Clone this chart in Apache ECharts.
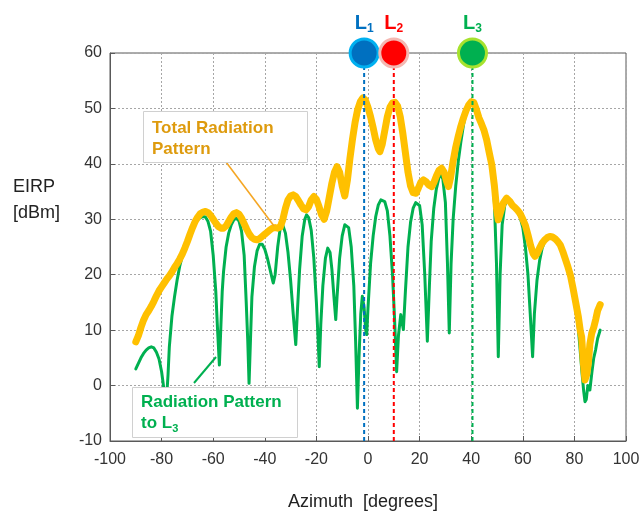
<!DOCTYPE html>
<html>
<head>
<meta charset="utf-8">
<script src="https://cdn.jsdelivr.net/npm/echarts@6/dist/echarts.min.js"></script>
<style>
  html, body { margin: 0; padding: 0; background: #ffffff; }
  #chart { width: 643px; height: 516px; }
</style>
</head>
<body>
<div id="chart"></div>
<script>
// Total radiation pattern (azimuth in degrees, EIRP in dBm)
const totalAz = [
  -90,-89,-88,-87,-86,-85,-84,-83,-82,-81,-80,-79,-78,-77,-76,-75,-74,-73,-72,-71,
  -70,-69,-68,-67,-66,-65,-64,-63,-62,-61,-60,-59,-58,-57,-56,-55,-54,-53,-52,-51,
  -50,-49,-48,-47,-46,-45,-44,-43,-42,-41,-40,-39,-38,-37,-36,-35,-34,-33,-32,-31,
  -30,-29,-28,-27,-26,-25,-24,-23,-22,-21,-20,-19,-18,-17,-16.5,-16,-15,-14,-13,-12,
  -11,-10,-9,-8.5,-8,-7,-6,-5,-4,-3,-2,-1,0,1,2,3,4,4.6,5.5,6.5,
  7.5,8.5,9.5,10.5,11.5,12.5,13.5,14.5,15.5,16.5,17.5,18.6,19.5,20.5,21.5,22.5,23.5,24.7,25.5,26.5,
  27.5,28.5,29.5,30.5,31.2,32,33,34,35,36,37,38,39,40,40.5,41,42,43,44,45,
  46,47,48,49,49.8,50.5,51.5,52.5,53.7,55,56,57,58,59,60,61,62,63,64,64.7,
  65.5,66.5,67.5,68.5,69.5,70.5,71.5,72.5,73.5,74.5,75.5,76.5,77.5,78.5,79.5,80.5,81.5,82.3,82.8,83.5,
  84.1,84.8,85.4,86,86.7,87.5,88.3,89,90
];
const totalDbm = [
  7.9,9.0,10.5,11.8,12.8,13.5,14.3,15.2,16.2,17.1,17.8,18.5,19.2,19.8,20.5,21.3,22.0,22.8,23.7,24.8,
  26.0,27.3,28.5,29.6,30.4,31.0,31.3,31.4,31.2,30.7,30.0,29.3,28.7,28.4,28.4,28.8,29.6,30.4,31.0,31.2,
  30.9,30.2,29.2,28.2,27.3,26.7,26.4,26.3,26.5,26.9,27.3,27.7,28.1,28.4,28.5,28.4,28.6,30.0,32.0,33.5,
  34.2,34.4,34.1,33.4,32.6,31.9,31.7,32.3,33.5,34.1,33.6,32.3,30.8,30.0,30.2,31.5,34.0,36.5,38.5,39.5,
  38.5,36.0,34.2,34.5,37.0,41.0,44.5,47.5,49.8,51.2,51.9,51.5,50.2,48.5,46.5,44.3,42.7,42.2,43.5,46.0,
  48.5,50.2,51.0,51.1,50.4,48.5,45.5,42.0,38.5,36.0,34.8,34.7,35.6,36.7,37.1,36.8,36.2,35.9,36.6,37.8,
  38.8,39.2,38.5,36.8,35.9,37.5,40.5,43.0,45.0,46.8,48.3,49.6,50.6,51.2,51.3,51.1,49.8,48.3,47.2,46.0,
  44.3,42.0,39.8,36.0,32.0,29.9,31.5,33.0,33.8,33.2,32.5,32.1,31.6,31.0,30.0,28.9,27.2,25.3,23.8,23.3,
  23.8,24.8,25.7,26.3,26.7,26.9,26.8,26.5,26.0,25.4,24.2,22.8,21.4,19.8,17.5,15.0,12.5,9.8,8.8,4.0,
  1.0,2.0,4.0,7.5,9.4,10.5,12.0,13.5,14.6
];

// Radiation pattern towards L3
const l3Az = [
  -90,-89,-88,-87,-86,-85,-84,-83,-82,-81,-80,-79,-78.3,-77.5,-77,-76,-75,-74,-73,-72,
  -71,-70,-69,-68,-67,-66,-65,-64,-63,-62,-61,-60,-59,-58.3,-57.6,-57,-56.5,-56,-55,-54,
  -53,-52,-51,-50,-49,-48,-47.2,-46.6,-46.1,-45.5,-45,-44,-43,-42,-41.5,-41,-40,-39,-38,-37,
  -36.7,-36,-35,-34,-33.5,-33,-32,-31,-30,-29,-28,-27.3,-26.5,-25.5,-24.5,-23.8,-23,-22,-21,-20,
  -19.3,-18.9,-18.3,-17.5,-16.5,-15.6,-14.7,-14,-13.2,-12.5,-12,-11,-10,-9,-8.3,-7.5,-6.5,-5.5,-4.8,-4.1,
  -3.5,-2.8,-2.2,-1.5,-0.9,-0.5,0,1,2,3,4,5,5.6,6.5,7.5,8.5,9.5,10.3,11.1,11.8,
  12.7,13.7,14.5,15.5,16.5,17.5,18.5,19.1,20,21,22,23,23.8,24.5,25.5,26.5,27.5,28.3,29,30,
  30.8,31.5,32.2,33,34,35,36,37,38,39,40,40.5,41,42,43,44,45,46,47,48,
  49,49.8,50.5,51.2,52,53,54,55,56,57,58,59,60,61,62,63,63.8,64.5,65.5,66.5,
  67.5,68.5,69.5,70.5,71.5,72.5,73.5,74.5,75.5,76.5,77.5,78.5,79.5,80.5,81.5,82.3,83,83.6,84.1,84.6,
  85.2,86,86.8,87.5,88.2,89,90
];
const l3Dbm = [
  3.0,4.0,5.0,5.8,6.4,6.8,7.0,6.8,6.0,4.8,2.5,-1.0,-4.0,2.0,7.0,12.5,16.0,19.0,21.5,23.3,
  24.8,26.0,27.3,28.4,29.3,29.9,30.3,30.5,30.4,29.6,27.8,23.5,17.0,10.0,3.7,11.0,17.0,20.5,25.0,27.5,
  29.0,29.9,30.2,29.7,27.8,23.5,15.0,8.0,0.4,9.0,16.0,21.5,24.3,25.5,25.7,25.5,24.6,23.0,21.0,19.0,
  18.5,20.0,25.0,28.5,29.6,29.4,27.5,24.0,19.0,13.0,7.4,14.0,21.0,27.0,30.0,30.8,30.3,28.0,23.0,15.0,
  8.0,3.4,11.0,18.0,23.0,24.8,24.0,21.0,16.0,11.9,16.0,23.0,27.0,29.0,29.3,28.5,25.0,18.0,8.0,-4.1,
  5.0,13.0,16.1,14.0,10.0,9.2,14.0,22.0,27.0,30.5,32.6,33.5,33.6,33.2,31.5,27.0,20.0,12.0,2.5,9.0,
  12.8,10.1,17.0,25.0,29.5,32.0,33.0,33.2,32.5,29.0,20.0,8.0,18.0,26.0,32.0,35.5,37.5,38.0,37.3,33.0,
  22.0,9.5,22.0,30.0,36.0,40.5,44.0,47.0,49.3,50.6,51.2,51.3,51.1,49.8,48.2,47.0,45.8,44.3,42.0,39.5,
  33.0,22.0,5.2,20.0,29.0,32.5,33.5,33.2,32.5,32.0,31.3,30.3,28.5,25.0,20.0,12.0,5.2,13.0,19.0,22.5,
  24.8,26.0,26.6,26.9,26.8,26.5,25.9,25.2,24.0,22.5,21.0,19.5,17.0,14.0,10.5,6.0,2.0,-1.0,-2.9,-2.5,
  0.0,-0.8,2.5,5.0,6.4,8.5,10.0
];

// Link directions L1, L2, L3 (azimuth in degrees)
const linkNames = ['1', '2', '3'];
const linkAz = [-1.5, 10, 40.5];

// Axis ticks
const xTicks = { min: -100, max: 100, step: 20 };
const yTicks = { min: -10, max: 60, step: 10 };

const zip = (xs, ys) => xs.map((x, i) => [x, ys[i]]);

const linkStyle = [
  { fill: '#0070C0', ring: '#00B0F0', text: '#0070C0', dash: '#0070C0' },
  { fill: '#FF0000', ring: '#F4B8B2', text: '#FF0000', dash: '#FF0000' },
  { fill: '#00B050', ring: '#A6E22E', text: '#00B050', dash: '#00B050' }
];

const chart = echarts.init(document.getElementById('chart'), null, { renderer: 'canvas' });

const gridLeft = 110, gridTop = 53, gridRight = 17, gridBottom = 75;

const dashSeries = linkAz.map((az, i) => ({
  type: 'line',
  data: [[az, yTicks.min], [az, yTicks.max]],
  symbol: 'none',
  silent: true,
  z: 5,
  lineStyle: { color: linkStyle[i].dash, width: 2, type: [4, 3] },
  animation: false
}));

const option = {
  animation: false,
  backgroundColor: '#ffffff',
  grid: {
    left: gridLeft, top: gridTop, right: gridRight, bottom: gridBottom,
    show: true, borderColor: '#595959', borderWidth: 1, backgroundColor: 'transparent'
  },
  xAxis: {
    type: 'value',
    min: xTicks.min, max: xTicks.max, interval: xTicks.step,
    axisLine: { show: true, onZero: false, lineStyle: { color: '#595959', width: 1 } },
    axisTick: { show: true, inside: true, length: 5, lineStyle: { color: '#595959' } },
    axisLabel: { color: '#333333', fontSize: 16, fontFamily: 'Liberation Sans, Arial, sans-serif', margin: 11 },
    splitLine: { show: true, lineStyle: { color: '#a6a6a6', width: 1, type: [2, 2] } }
  },
  yAxis: {
    type: 'value',
    min: yTicks.min, max: yTicks.max, interval: yTicks.step,
    axisLine: { show: true, onZero: false, lineStyle: { color: '#595959', width: 1 } },
    axisTick: { show: true, inside: true, length: 5, lineStyle: { color: '#595959' } },
    axisLabel: { color: '#333333', fontSize: 16, fontFamily: 'Liberation Sans, Arial, sans-serif', margin: 8 },
    splitLine: { show: true, lineStyle: { color: '#a6a6a6', width: 1, type: [2, 2] } }
  },
  series: [
    {
      name: 'Radiation Pattern to L3',
      type: 'line',
      data: zip(l3Az, l3Dbm),
      symbol: 'none',
      z: 2,
      lineStyle: { color: '#00B050', width: 3, join: 'round', cap: 'round' }
    },
    {
      name: 'Total Radiation Pattern',
      type: 'line',
      data: zip(totalAz, totalDbm),
      symbol: 'none',
      z: 3,
      lineStyle: { color: '#FFC000', width: 7, join: 'round', cap: 'round' }
    },
    ...dashSeries,
    {
      name: 'Links',
      type: 'scatter',
      clip: false,
      z: 10,
      symbol: 'circle',
      symbolSize: 28,
      data: linkAz.map((az, i) => ({
        value: [az, yTicks.max],
        itemStyle: { color: linkStyle[i].fill, borderColor: linkStyle[i].ring, borderWidth: 3, opacity: 1 },
        label: {
          show: true,
          position: 'top',
          distance: 3,
          formatter: '{m|L}{s|' + linkNames[i] + '}',
          rich: {
            m: { fontSize: 20, fontWeight: 'bold', color: linkStyle[i].text, fontFamily: 'Liberation Sans, Arial, sans-serif', lineHeight: 22 },
            s: { fontSize: 12, fontWeight: 'bold', color: linkStyle[i].text, fontFamily: 'Liberation Sans, Arial, sans-serif', lineHeight: 12, verticalAlign: 'bottom' }
          }
        }
      }))
    }
  ],
  graphic: [
    // y-axis title
    {
      type: 'text', left: 13, top: 174, z: 20,
      style: { text: 'EIRP\n[dBm]', fill: '#222222', font: '18px "Liberation Sans", Arial, sans-serif', lineHeight: 26 }
    },
    // x-axis title
    {
      type: 'text', x: 363, y: 502, z: 20,
      style: { text: 'Azimuth  [degrees]', fill: '#222222', font: '18px "Liberation Sans", Arial, sans-serif', align: 'center', verticalAlign: 'middle' }
    },
    // callout: total pattern
    {
      type: 'line', z: 15,
      shape: { x1: 226, y1: 162, x2: 274, y2: 226 },
      style: { stroke: '#F5A623', lineWidth: 1.5 }
    },
    {
      type: 'rect', z: 16,
      shape: { x: 143.5, y: 111.5, width: 164, height: 51 },
      style: { fill: '#ffffff', stroke: '#d0d0d0', lineWidth: 1 }
    },
    {
      type: 'text', x: 152, y: 118, z: 17,
      style: { text: 'Total Radiation\nPattern', fill: '#DE9B0E', font: 'bold 17px "Liberation Sans", Arial, sans-serif', lineHeight: 21 }
    },
    // callout: pattern towards L3
    {
      type: 'line', z: 15,
      shape: { x1: 194, y1: 383, x2: 216, y2: 357 },
      style: { stroke: '#00B050', lineWidth: 2 }
    },
    {
      type: 'rect', z: 16,
      shape: { x: 132.5, y: 387.5, width: 165, height: 50 },
      style: { fill: '#ffffff', stroke: '#d0d0d0', lineWidth: 1 }
    },
    {
      type: 'text', x: 141, y: 392, z: 17,
      style: {
        text: '{t|Radiation Pattern}\n{t|to L}{s|3}',
        fill: '#00B050',
        rich: {
          t: { font: 'bold 17px "Liberation Sans", Arial, sans-serif', fill: '#00B050', lineHeight: 21 },
          s: { font: 'bold 11px "Liberation Sans", Arial, sans-serif', fill: '#00B050', lineHeight: 11, verticalAlign: 'bottom' }
        }
      }
    }
  ]
};

chart.setOption(option);
</script>
</body>
</html>
